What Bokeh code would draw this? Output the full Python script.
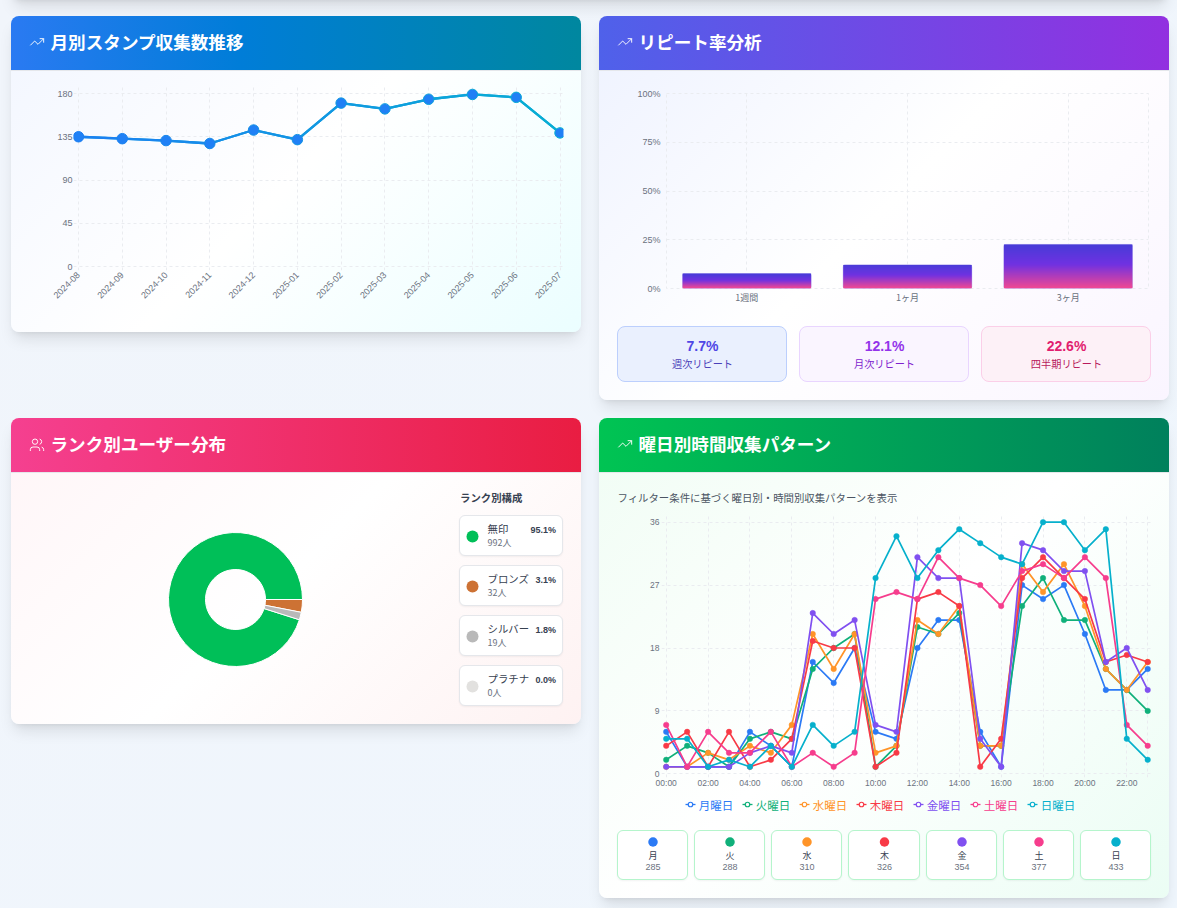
import numpy as np
from bokeh.core.properties import value
from bokeh.embed import file_html
from bokeh.layouts import column
from bokeh.models import (Div, FactorRange, FixedTicker, PrintfTickFormatter, Range1d)
from bokeh.plotting import figure
from bokeh.resources import INLINE

# ---------- data ----------
months = ["2024-08", "2024-09", "2024-10", "2024-11", "2024-12", "2025-01",
          "2025-02", "2025-03", "2025-04", "2025-05", "2025-06", "2025-07"]
monthly_stamps = [135, 133, 131, 128, 142, 132, 170, 164, 174, 179, 176, 139]
monthly_ticks = [0, 45, 90, 135, 180]

repeat_periods = ["1週間", "1ヶ月", "3ヶ月"]
repeat_rates = [7.7, 12.1, 22.6]
repeat_ticks = [0, 25, 50, 75, 100]
repeat_labels = ["週次リピート", "月次リピート", "四半期リピート"]

rank_names = ["無印", "ブロンズ", "シルバー", "プラチナ"]
rank_users = [992, 32, 19, 0]
rank_pcts = ["95.1%", "3.1%", "1.8%", "0.0%"]
rank_colors = ["#00bf58", "#cd7234", "#b9b9b9", "#e2e1df"]

hours = list(range(24))
mon = [6, 1, 1, 1, 6, 4, 1, 16, 13, 18, 6, 5, 18, 22, 22, 6, 1, 27, 25, 27, 20, 12, 12, 15]
tue = [2, 4, 3, 1, 5, 6, 5, 15, 18, 20, 1, 4, 21, 20, 23, 4, 4, 24, 28, 22, 22, 15, 12, 9]
wed = [1, 1, 3, 2, 4, 3, 7, 20, 15, 20, 3, 4, 22, 20, 24, 4, 4, 30, 26, 30, 24, 15, 12, 16]
thu = [4, 6, 1, 6, 1, 2, 5, 19, 18, 18, 1, 3, 25, 26, 24, 1, 5, 28, 31, 28, 25, 16, 17, 16]
fri = [1, 1, 1, 1, 3, 4, 3, 23, 20, 22, 7, 6, 31, 28, 28, 5, 1, 33, 32, 29, 29, 16, 18, 12]
sat = [7, 1, 6, 3, 3, 6, 1, 3, 1, 3, 25, 26, 25, 31, 28, 27, 24, 29, 30, 28, 31, 28, 7, 4]
sun = [5, 5, 1, 2, 1, 4, 1, 7, 4, 6, 28, 34, 28, 32, 35, 33, 31, 30, 36, 36, 32, 35, 5, 2]
day_series = [mon, tue, wed, thu, fri, sat, sun]
day_long = ["月曜日", "火曜日", "水曜日", "木曜日", "金曜日", "土曜日", "日曜日"]
day_short = ["月", "火", "水", "木", "金", "土", "日"]
day_totals = [285, 288, 310, 326, 354, 377, 433]
day_colors = ["#2b7af5", "#10b07a", "#ff9428", "#f83a46", "#8050f0", "#f63d8d", "#06b0cc"]
hour_ticks = list(range(0, 24, 2))
hour_ticks_y = [0, 9, 18, 27, 36]

titles = ["月別スタンプ収集数推移", "リピート率分析", "ランク別ユーザー分布", "曜日別時間収集パターン"]

# ---------- style helpers ----------
LATIN = "Liberation Sans"
CJK = "Noto Sans CJK JP"
GRID = "#eaecf0"
TICK = "#6b7280"


def place(model, left, top):
    model.styles = {"position": "absolute", "left": f"{left}px", "top": f"{top}px"}
    return model


def blank(left, top, w, h, fl, fr, ft, fb, x_range, y_range):
    """Transparent figure whose frame spans page pixels fl..fr, ft..fb."""
    p = figure(width=w, height=h, x_range=x_range, y_range=y_range,
               toolbar_location=None, output_backend="svg", frame_align=False,
               min_border_left=fl - left, min_border_right=left + w - fr,
               min_border_top=ft - top, min_border_bottom=top + h - fb,
               background_fill_color=None, border_fill_color=None, outline_line_color=None)
    return place(p, left, top)


def style_axes(p, size):
    for ax in (p.xaxis[0], p.yaxis[0]):
        ax.axis_line_color = None
        ax.major_tick_line_color = None
        ax.minor_tick_line_color = None
        ax.major_tick_out = 0
        ax.major_tick_in = 0
        ax.minor_tick_out = 0
        ax.minor_tick_in = 0
        ax.major_label_text_font = LATIN
        ax.major_label_text_font_size = size
        ax.major_label_text_color = TICK
    for g in (p.xgrid[0], p.ygrid[0]):
        g.grid_line_color = GRID
        g.grid_line_dash = [3, 3]
        g.grid_line_width = 1


def mix(a, b, t):
    ca = [int(a[i:i + 2], 16) for i in (1, 3, 5)]
    cb = [int(b[i:i + 2], 16) for i in (1, 3, 5)]
    return "#%02x%02x%02x" % tuple(round(u + (v - u) * t) for u, v in zip(ca, cb))


# ---------- page background (no text, CSS only) ----------
SHADOW = "box-shadow:0 10px 15px -3px rgba(0,0,0,.1),0 4px 6px -4px rgba(0,0,0,.1);"
ICON_TREND = ('<svg width="16" height="16" viewBox="0 0 24 24" fill="none" stroke="#fff" stroke-width="1.4" '
              'style="position:absolute;left:18px;top:18px"><polyline points="22 7 13.5 15.5 8.5 10.5 2 17"/>'
              '<polyline points="16 7 22 7 22 13"/></svg>')
ICON_USERS = ('<svg width="16" height="16" viewBox="0 0 24 24" fill="none" stroke="#fff" stroke-width="1.4" '
              'style="position:absolute;left:18px;top:19px"><path d="M16 21v-2a4 4 0 0 0-4-4H6a4 4 0 0 0-4 4v2"/>'
              '<circle cx="9" cy="7" r="4"/><path d="M22 21v-2a4 4 0 0 0-3-3.87"/>'
              '<path d="M16 3.13a4 4 0 0 1 0 7.75"/></svg>')


def card(l, t, w, h, head, body, icon):
    return (f'<div style="position:absolute;left:{l}px;top:{t}px;width:{w}px;height:{h}px;border-radius:8px;'
            f'{SHADOW}background:{body};overflow:hidden">'
            f'<div style="position:absolute;left:0;top:0;width:{w}px;height:55px;background:{head};'
            f'border-bottom:1px solid #e5e7eb;box-sizing:border-box">{icon}</div></div>')


def box(l, t, w, h, bg, border, radius=8, extra=""):
    return (f'<div style="position:absolute;left:{l}px;top:{t}px;width:{w}px;height:{h}px;box-sizing:border-box;'
            f'background:{bg};border:1px solid {border};border-radius:{radius}px;{extra}"></div>')


html = ('<div style="position:absolute;left:0;top:0;width:1177px;height:908px;overflow:hidden;'
        'background:linear-gradient(135deg,#f1f5fb,#eff6fd)">')
html += f'<div style="position:absolute;left:11px;top:-200px;width:1158px;height:200px;border-radius:8px;background:#fff;{SHADOW}"></div>'
html += card(11, 16, 570, 316, "linear-gradient(90deg,#2a7af2,#007dd8 40%,#00879f)",
             "linear-gradient(135deg,#f2f6ff,#ffffff 50%,#ebfeff)", ICON_TREND)
html += card(599, 16, 570, 384, "linear-gradient(90deg,#4f61ea,#9230e0)",
             "linear-gradient(135deg,#eef2ff,#ffffff 50%,#faf5ff)", ICON_TREND)
html += card(11, 418, 570, 306, "linear-gradient(90deg,#f54090,#e91d42)",
             "linear-gradient(135deg,#fff5f7,#ffffff 50%,#fef2f2)", ICON_USERS)
html += card(599, 418, 570, 480, "linear-gradient(90deg,#00c453,#00805c)",
             "linear-gradient(135deg,#f0fdf4,#ffffff 50%,#ebfdf4)", ICON_TREND)
html += box(617, 326, 170, 56, "#eaf0fe", "#bccffd")
html += box(799, 326, 170, 56, "#faf5ff", "#e9d5ff")
html += box(981, 326, 170, 56, "#fdf1f7", "#fbcfe8")
for ty in (515, 565, 615, 665):
    html += box(459, ty, 104, 41, "#ffffff", "#e5e7eb", 6, "box-shadow:0 1px 2px rgba(0,0,0,.05);")
day_card_x = [617, 694, 771, 848, 926, 1003, 1080]
day_card_w = [71, 71, 71, 72, 71, 71, 71]
for cx, cw in zip(day_card_x, day_card_w):
    html += box(cx, 830, cw, 50, "#ffffff", "#b5f5cc", 6, "box-shadow:0 1px 2px rgba(0,0,0,.05);")
html += "</div>"
bg = place(Div(text=html, width=1177, height=908, margin=0), 0, 0)

# ---------- chart 1: monthly line ----------
px1 = (559.5 - 78) / 11
py1 = (266 - 93) / 180
p1 = blank(40, 80, 530, 240, 73, 563, 85, 270,
           Range1d((73 - 78) / px1, 11 + (563 - 559.5) / px1),
           Range1d((266 - 270) / py1, (266 - 85) / py1))
xs1 = list(range(len(months)))
style_axes(p1, "9px")
p1.xaxis[0].ticker = FixedTicker(ticks=xs1)
p1.xaxis[0].major_label_overrides = dict(zip(xs1, months))
p1.xaxis[0].major_label_orientation = np.pi / 4
p1.xaxis[0].major_label_standoff = 3
p1.yaxis[0].ticker = FixedTicker(ticks=monthly_ticks)
p1.yaxis[0].major_label_standoff = 1
p1.xgrid[0].ticker = FixedTicker(ticks=xs1)
p1.ygrid[0].ticker = FixedTicker(ticks=monthly_ticks)
p1.xgrid[0].bounds = (0, 180)
p1.ygrid[0].bounds = (0, 11)
seg_cols = [mix("#1c7ff2", "#06b0d2", (i + .5) / 11) for i in range(11)]
p1.line(xs1, monthly_stamps, line_color="#0a98e0", line_width=2.3)
p1.segment(xs1[:-1], monthly_stamps[:-1], xs1[1:], monthly_stamps[1:], line_color=seg_cols,
           line_width=2.3, line_cap="round")
mk_cols = [mix("#1c7ff2", "#06b0d2", i / 11) for i in range(12)]
p1.scatter(xs1, monthly_stamps, size=10.5, fill_color="#2080f5", line_color=mk_cols, line_width=1)

# ---------- chart 2: repeat bars ----------
p2 = blank(625, 85, 530, 225, 666, 1148, 93, 288,
           FactorRange(factors=repeat_periods), Range1d(0, 100))
style_axes(p2, "9px")
p2.outline_line_color = GRID
p2.outline_line_dash = [3, 3]
p2.yaxis[0].ticker = FixedTicker(ticks=repeat_ticks)
p2.yaxis[0].formatter = PrintfTickFormatter(format="%d%%")
p2.yaxis[0].major_label_standoff = 6
p2.xaxis[0].major_label_standoff = 2
p2.xaxis[0].major_label_text_font = CJK
p2.ygrid[0].ticker = FixedTicker(ticks=repeat_ticks)
p2.vbar(x=repeat_periods, top=repeat_rates, width=0.8, fill_color="#6d35e0",
        line_color="#cfc8f5", line_width=1, border_radius=2)


def bar_image(rate):
    nh, nw = max(2, int(round(rate * 1.95))), 128
    stops_t, c0, c1, c2 = [0, .55, 1], (240, 72, 148), (112, 50, 226), (72, 60, 216)
    img = np.zeros((nh, nw), dtype=np.uint32)
    view = img.view(np.uint8).reshape((nh, nw, 4))
    for i in range(nh):
        t = i / (nh - 1)
        col = [np.interp(t, stops_t, [c0[k], c1[k], c2[k]]) for k in range(3)]
        view[i, :, 0], view[i, :, 1], view[i, :, 2] = col
        view[i, :, 3] = 255
    return img


p2.image_rgba(image=[bar_image(v) for v in repeat_rates], x=[0.1, 1.1, 2.1], y=[0, 0, 0],
              dw=[0.8, 0.8, 0.8], dh=repeat_rates)

# ---------- chart 3: donut ----------
p3 = blank(165, 529, 140, 140, 165, 305, 529, 669, Range1d(-70, 70), Range1d(-70, 70))
p3.axis.visible = False
p3.grid.visible = False
total = sum(rank_users)
fracs = np.array(rank_users) / total
starts = -(1 - fracs[0]) * 2 * np.pi - np.concatenate([[0], np.cumsum(fracs)[:-1]]) * 2 * np.pi
ends = starts - fracs * 2 * np.pi
drawn = fracs > 0
p3.annular_wedge(x=0, y=0, inner_radius=30, outer_radius=67, start_angle=starts[drawn], end_angle=ends[drawn],
                 direction="clock", fill_color=[c for c, d in zip(rank_colors, drawn) if d],
                 line_color="#ffffff", line_width=1)

# ---------- chart 4: weekday/hour lines ----------
px4 = (1147.2 - 665.7) / 23
py4 = (773.3 - 521.7) / 36
p4 = blank(630, 510, 530, 285, 661, 1152, 515, 777,
           Range1d((661 - 665.7) / px4, 23 + (1152 - 1147.2) / px4),
           Range1d((773.3 - 777) / py4, (773.3 - 515) / py4))
style_axes(p4, "8.5px")
p4.xaxis[0].ticker = FixedTicker(ticks=hour_ticks)
p4.xaxis[0].major_label_overrides = {h: f"{h:02d}:00" for h in hour_ticks}
p4.xaxis[0].major_label_standoff = 0
p4.yaxis[0].ticker = FixedTicker(ticks=hour_ticks_y)
p4.yaxis[0].major_label_standoff = 2
p4.xgrid[0].ticker = FixedTicker(ticks=hour_ticks + [23])
p4.ygrid[0].ticker = FixedTicker(ticks=hour_ticks_y)
p4.xgrid[0].bounds = (0, 36)
p4.ygrid[0].bounds = (0, 23)
for vals, col in zip(day_series, day_colors):
    p4.line(hours, vals, line_color=col, line_width=1.7)
    p4.scatter(hours, vals, size=5.5, fill_color=col, line_color=col, line_width=0.5)

# ---------- overlay: all page text and legends ----------
ov = blank(0, 0, 1177, 908, 0, 1177, 0, 908, Range1d(0, 1177), Range1d(908, 0))
ov.axis.visible = False
ov.grid.visible = False


def T(x, y, s, size, color, bold=False, align="left", font=CJK):
    ov.text([x], [y - 1], text=[s], text_font=value(font), text_font_size=f"{size}px", text_color=color,
            text_font_style="bold" if bold else "normal", text_align=align, text_baseline="middle")


for (tx, ty), s in zip([(50, 42), (638, 42), (50, 444), (638, 444)], titles):
    T(tx, ty, s, 17.6, "#ffffff", bold=True)

stat_cols = [("#4f46e5", "#4a40b8"), ("#9333ea", "#7e22ce"), ("#e11d6f", "#b8195c")]
for cx, v, lab, (c1, c2) in zip([702, 884, 1066], repeat_rates, repeat_labels, stat_cols):
    T(cx, 346, f"{v}%", 14, c1, bold=True, align="center", font=LATIN)
    T(cx, 364, lab, 10.2, c2, align="center")

T(459.5, 498, "ランク別構成", 10.4, "#374151", bold=True)
for i, (n, u, pc, c) in enumerate(zip(rank_names, rank_users, rank_pcts, rank_colors)):
    oy = 50 * i
    ov.scatter([472], [536 + oy], size=12, fill_color=c, line_color=None)
    T(487, 529 + oy, n, 10.4, "#374151")
    T(487, 542.5 + oy, f"{u}人", 9, "#6b7280")
    T(555.5, 530.5 + oy, pc, 9, "#374151", bold=True, align="right", font=LATIN)

T(617, 498, "フィルター条件に基づく曜日別・時間別収集パターンを表示", 10.4, "#4b5563")
legend_x = [685, 742, 799, 856, 913, 970, 1027]
for lx, n, c in zip(legend_x, day_long, day_colors):
    ov.line([lx, lx + 10], [804, 804], line_color=c, line_width=1.3)
    ov.scatter([lx + 5], [804], size=4.5, fill_color="#ffffff", line_color=c, line_width=1.2)
    T(lx + 13.2, 805, n, 11.5, c)

for cx, cw, n, tot, c in zip(day_card_x, day_card_w, day_short, day_totals, day_colors):
    mid = cx + cw / 2
    ov.scatter([mid], [841.5], size=9.5, fill_color=c, line_color=None)
    T(mid, 855.5, n, 9, "#374151", align="center")
    T(mid, 867, str(tot), 9, "#6b7280", align="center", font=LATIN)

root = column(bg, p1, p2, p3, p4, ov, width=1177, height=908, margin=0)
root.styles = {"position": "absolute", "left": "0px", "top": "0px"}

open("out.html", "w").write(file_html(root, INLINE))
